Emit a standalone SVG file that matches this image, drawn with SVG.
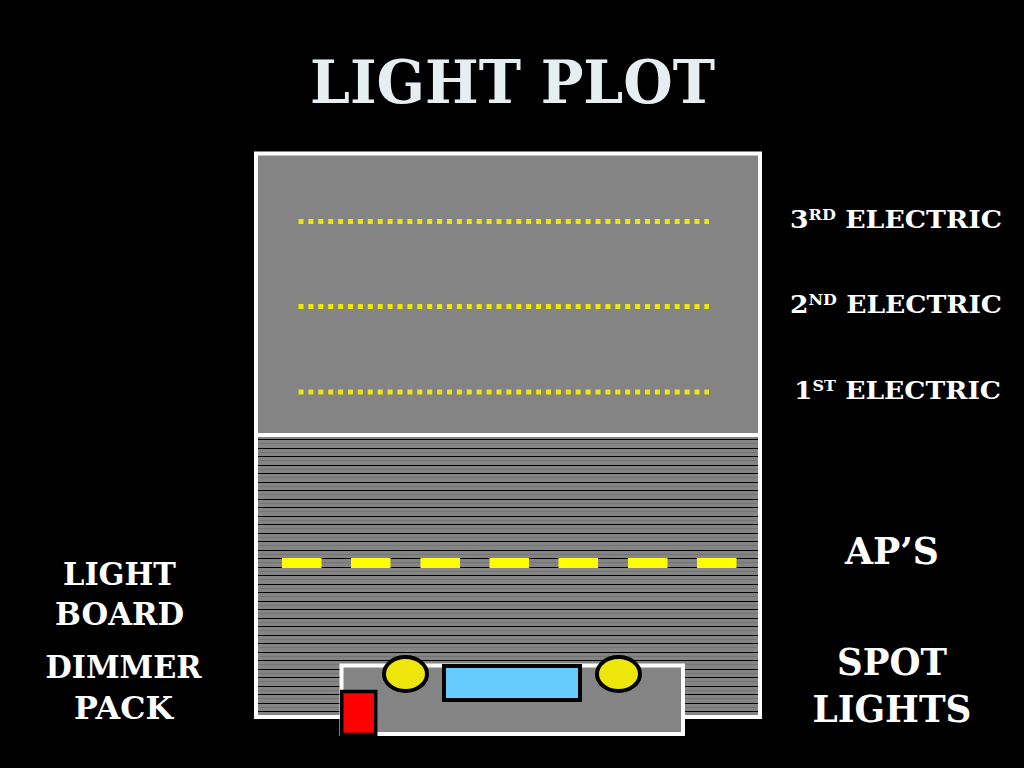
<svg xmlns="http://www.w3.org/2000/svg" width="1024" height="768" viewBox="0 0 1024 768">
<style>
text{font-family:"DejaVu Serif","Liberation Serif",serif;font-weight:700;fill:#fff;text-anchor:middle}
.lbl{font-size:31px}
.el{font-size:25px;text-anchor:start}
.sup{font-size:15px}
.big{font-size:37px}
.panel{fill:#848484;stroke:#fff;stroke-width:4}
.dots{stroke:#eee60a;stroke-width:5;stroke-dasharray:5 4.900;fill:none}
.dash{fill:#ffff00}
.lamp{fill:#eee60a;stroke:#000;stroke-width:4}
.stripe{stroke:#000;stroke-width:1}
.faint{stroke:#747474;stroke-width:1}
</style>
<rect width="1024" height="768" fill="#000"/>
<text id="title" x="512.500" y="103" font-size="59" style="fill:#e6eef2" textLength="405" lengthAdjust="spacingAndGlyphs">LIGHT PLOT</text>
<g id="stage"><rect class="panel" x="256" y="153.500" width="504" height="282"/></g>
<g id="house"><rect class="panel" x="256" y="435" width="504" height="282"/>
<path class="faint" d="M258 443.500H758M258 452.500H758M258 460.500H758M258 469.500H758M258 477.500H758M258 486.500H758M258 494.500H758M258 503.500H758M258 511.500H758M258 520.500H758M258 528.500H758M258 537.500H758M258 545.500H758M258 554.500H758M258 562.500H758M258 571.500H758M258 579.500H758M258 588.500H758M258 596.500H758M258 605.500H758M258 613.500H758M258 622.500H758M258 630.500H758M258 639.500H758M258 647.500H758M258 656.500H758M258 664.500H758M258 673.500H758M258 681.500H758M258 690.500H758M258 698.500H758M258 707.500H758"/>
<path class="stripe" d="M258 439.500H758M258 448.500H758M258 456.500H758M258 465.500H758M258 473.500H758M258 482.500H758M258 490.500H758M258 499.500H758M258 507.500H758M258 516.500H758M258 524.500H758M258 533.500H758M258 541.500H758M258 550.500H758M258 558.500H758M258 567.500H758M258 575.500H758M258 584.500H758M258 592.500H758M258 601.500H758M258 609.500H758M258 618.500H758M258 626.500H758M258 635.500H758M258 643.500H758M258 652.500H758M258 660.500H758M258 669.500H758M258 677.500H758M258 686.500H758M258 694.500H758M258 703.500H758M258 711.500H758"/></g>
<g id="connectors">
<path class="dots" d="M298.500 221.500H709"/>
<path class="dots" d="M298.500 306.500H709"/>
<path class="dots" d="M298.500 392H709"/>
</g>
<g id="aps">
<rect class="dash" x="282" y="558" width="39.500" height="10"/><rect class="dash" x="351" y="558" width="39.500" height="10"/><rect class="dash" x="420.500" y="558" width="39.500" height="10"/><rect class="dash" x="489.500" y="558" width="39.500" height="10"/><rect class="dash" x="558.500" y="558" width="39.500" height="10"/><rect class="dash" x="628" y="558" width="39.500" height="10"/><rect class="dash" x="697" y="558" width="39.500" height="10"/>
</g>
<g id="booth"><rect class="panel" x="341.500" y="665.500" width="341.500" height="68.500"/></g>
<g id="spot-left"><ellipse class="lamp" cx="405.500" cy="674" rx="21.500" ry="17"/></g>
<g id="spot-right"><ellipse class="lamp" cx="618.500" cy="674" rx="21.500" ry="17"/></g>
<g id="light-board"><rect x="444" y="666" width="136" height="34" fill="#66ccff" stroke="#000" stroke-width="4"/></g>
<g id="dimmer-pack"><rect x="341.700" y="691.500" width="34" height="43" fill="#ff0000" stroke="#000" stroke-width="3.500"/></g>
<g id="labels">
<text class="el" x="790" y="228" textLength="212" lengthAdjust="spacingAndGlyphs">3<tspan class="sup" dy="-8">RD</tspan><tspan dy="8"> ELECTRIC</tspan></text>
<text class="el" x="790" y="313" textLength="212" lengthAdjust="spacingAndGlyphs">2<tspan class="sup" dy="-8">ND</tspan><tspan dy="8"> ELECTRIC</tspan></text>
<text class="el" x="794" y="399" textLength="207" lengthAdjust="spacingAndGlyphs">1<tspan class="sup" dy="-8">ST</tspan><tspan dy="8"> ELECTRIC</tspan></text>
<text class="big" x="892" y="564" textLength="94" lengthAdjust="spacingAndGlyphs">AP’S</text>
<text class="big" x="892" y="675" textLength="110" lengthAdjust="spacingAndGlyphs">SPOT</text>
<text class="big" x="892" y="722" textLength="159" lengthAdjust="spacingAndGlyphs">LIGHTS</text>
<text class="lbl" x="119.500" y="585" textLength="113" lengthAdjust="spacingAndGlyphs">LIGHT</text>
<text class="lbl" x="119.500" y="625" textLength="129" lengthAdjust="spacingAndGlyphs">BOARD</text>
<text class="lbl" x="123.500" y="678" textLength="156" lengthAdjust="spacingAndGlyphs">DIMMER</text>
<text class="lbl" x="123.500" y="719" textLength="99" lengthAdjust="spacingAndGlyphs">PACK</text>
</g>
</svg>
